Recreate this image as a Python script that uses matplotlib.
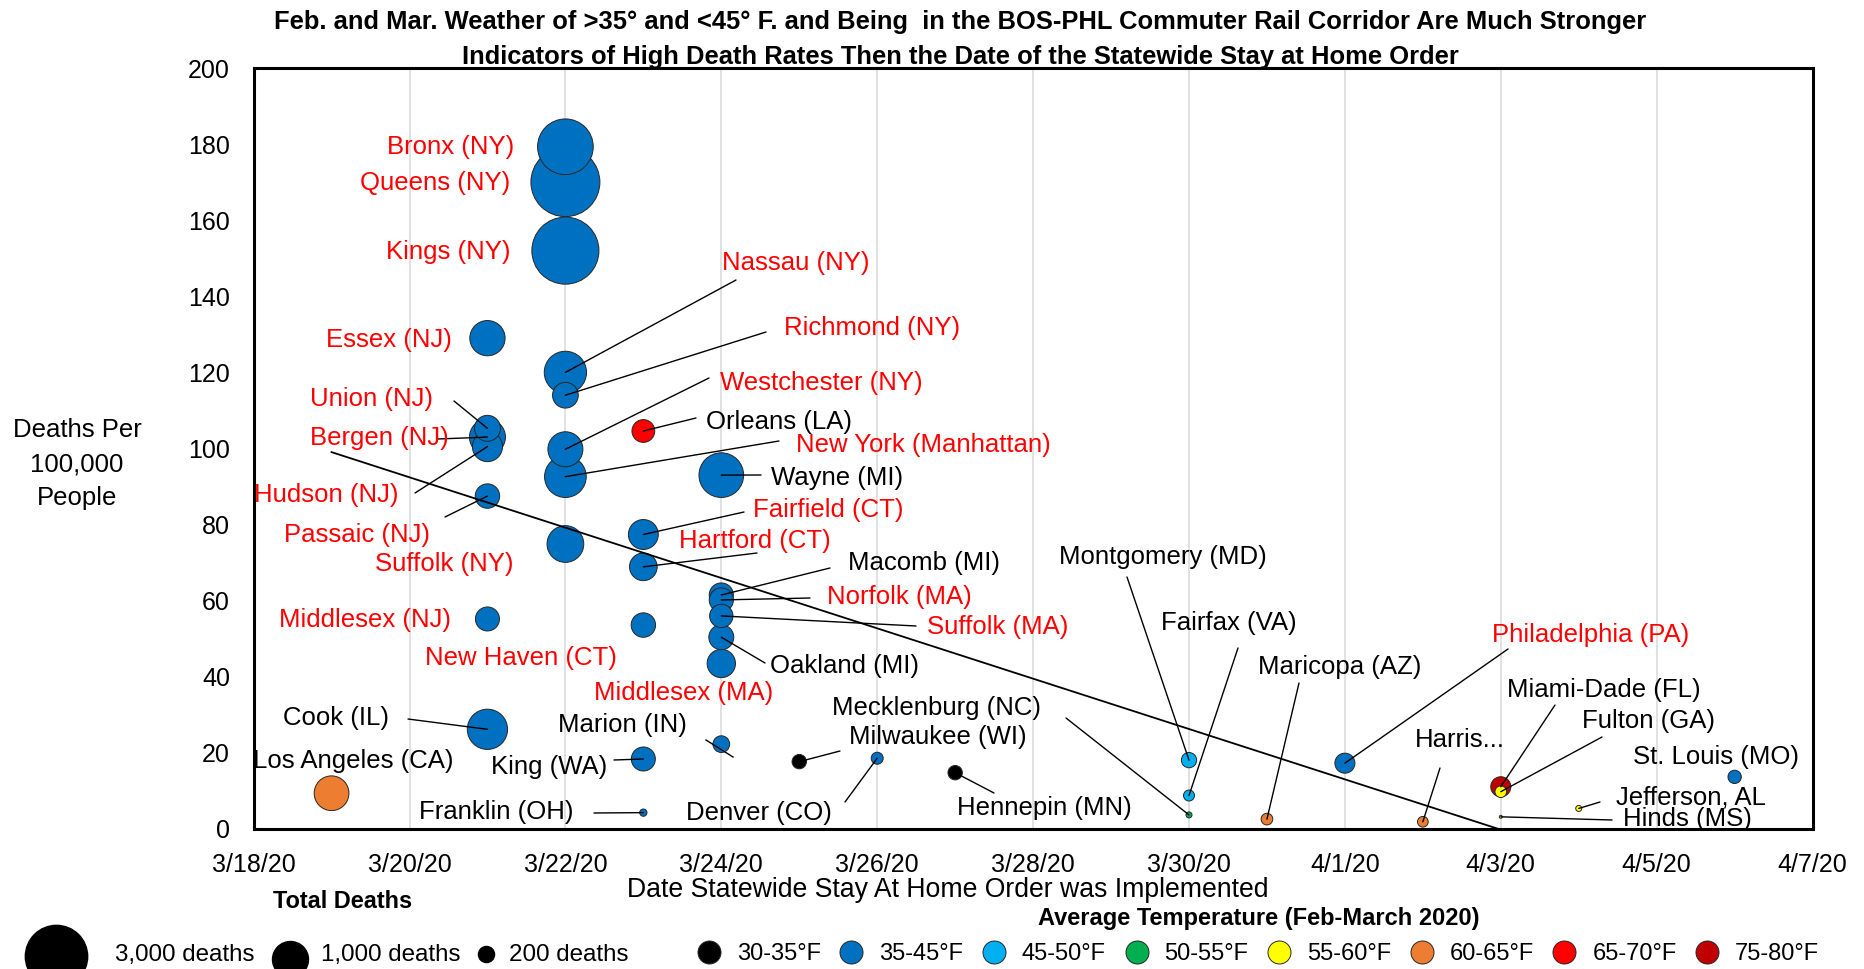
import matplotlib
matplotlib.use("Agg")
import matplotlib.pyplot as plt
import numpy as np
import pandas as pd
import matplotlib.dates as mdates

plt.rcParams['font.family'] = ['Liberation Sans', 'DejaVu Sans']

# ---------------- data ----------------
counties = ["Bronx (NY)", "Queens (NY)", "Kings (NY)", "Essex (NJ)", "Nassau (NY)",
            "Richmond (NY)", "Union (NJ)", "Bergen (NJ)", "Hudson (NJ)", "Passaic (NJ)",
            "Westchester (NY)", "New York (Manhattan)", "Orleans (LA)", "Wayne (MI)",
            "Fairfield (CT)", "Hartford (CT)", "New Haven (CT)", "Macomb (MI)",
            "Norfolk (MA)", "Suffolk (MA)", "Oakland (MI)", "Middlesex (MA)",
            "Suffolk (NY)", "Middlesex (NJ)", "Cook (IL)", "Los Angeles (CA)",
            "King (WA)", "Franklin (OH)", "Marion (IN)", "Milwaukee (WI)",
            "Denver (CO)", "Hennepin (MN)", "Montgomery (MD)", "Fairfax (VA)",
            "Mecklenburg (NC)", "Maricopa (AZ)", "Philadelphia (PA)", "Harris...",
            "Miami-Dade (FL)", "Fulton (GA)", "Hinds (MS)", "Jefferson, AL",
            "St. Louis (MO)"]
order_dates = ["2020-03-22", "2020-03-22", "2020-03-22", "2020-03-21", "2020-03-22",
               "2020-03-22", "2020-03-21", "2020-03-21", "2020-03-21", "2020-03-21",
               "2020-03-22", "2020-03-22", "2020-03-23", "2020-03-24",
               "2020-03-23", "2020-03-23", "2020-03-23", "2020-03-24",
               "2020-03-24", "2020-03-24", "2020-03-24", "2020-03-24",
               "2020-03-22", "2020-03-21", "2020-03-21", "2020-03-19",
               "2020-03-23", "2020-03-23", "2020-03-24", "2020-03-25",
               "2020-03-26", "2020-03-27", "2020-03-30", "2020-03-30",
               "2020-03-30", "2020-03-31", "2020-04-01", "2020-04-02",
               "2020-04-03", "2020-04-03", "2020-04-03", "2020-04-04",
               "2020-04-06"]
deaths_per_100k = [179.3, 170.0, 152.0, 129.0, 120.0,
                   114.0, 105.3, 103.0, 100.5, 87.5,
                   99.8, 92.6, 104.6, 93.0,
                   77.4, 68.9, 53.6, 61.5,
                   60.2, 56.0, 50.4, 43.5,
                   74.9, 55.2, 26.2, 9.4,
                   18.4, 4.3, 22.3, 17.7,
                   18.6, 14.8, 18.1, 8.8,
                   3.7, 2.6, 17.3, 1.9,
                   11.1, 9.8, 3.2, 5.4,
                   13.7]
total_deaths = [2390, 3670, 3470, 960, 1380,
                510, 520, 1000, 700, 460,
                945, 1340, 400, 1540,
                690, 590, 460, 450,
                450, 420, 480, 620,
                1040, 445, 1250, 930,
                445, 41, 215, 160,
                111, 160, 180, 93,
                28, 105, 310, 88,
                310, 105, 7, 28,
                137]
temp_band = ["35-45°F"] * 12 + ["65-70°F"] + ["35-45°F"] * 12 + ["60-65°F"] + \
            ["35-45°F"] * 3 + ["30-35°F", "35-45°F", "30-35°F", "45-50°F", "45-50°F",
             "50-55°F", "60-65°F", "35-45°F", "60-65°F", "75-80°F", "55-60°F",
             "55-60°F", "55-60°F", "35-45°F"]
in_corridor = [True] * 12 + [False, False] + [True, True, True, False, True, True,
               False, True, True, True] + [False] * 12 + [True] + [False] * 6

temp_bands = ["30-35°F", "35-45°F", "45-50°F", "50-55°F", "55-60°F", "60-65°F",
              "65-70°F", "75-80°F"]
temp_colors = ["#000000", "#0070C0", "#00B0F0", "#00B050", "#FFFF00", "#ED7D31",
               "#FF0000", "#C00000"]
size_legend_deaths = [3000, 1000, 200]
size_legend_labels = ["3,000 deaths", "1,000 deaths", "200 deaths"]
y_ticks = [0, 20, 40, 60, 80, 100, 120, 140, 160, 180, 200]
x_start, x_end = "2020-03-18", "2020-04-07"

title_lines = ["Feb. and Mar. Weather of >35° and <45° F. and Being  in the BOS-PHL Commuter "
               "Rail Corridor Are Much Stronger",
               "Indicators of High Death Rates Then the Date of the Statewide Stay at Home Order"]

# ---------------- layout (image pixels, origin top-left) ----------------
W, H = 1864, 969
label_pos = {
    "Bronx (NY)": (451, 147, None), "Queens (NY)": (435, 183, None),
    "Kings (NY)": (448, 252, None), "Essex (NJ)": (389, 340, None),
    "Nassau (NY)": (796, 263, (736, 280)), "Richmond (NY)": (872, 328, (766, 332)),
    "Westchester (NY)": (821, 383, (709, 378)), "Union (NJ)": (372, 399, (454, 401)),
    "Bergen (NJ)": (379, 438, (438, 439)), "Orleans (LA)": (779, 422, (696, 418)),
    "New York (Manhattan)": (923, 445, (779, 441)), "Wayne (MI)": (837, 478, (761, 475)),
    "Hudson (NJ)": (326, 495, (415, 493)), "Passaic (NJ)": (357, 535, (445, 517)),
    "Suffolk (NY)": (444, 564, None), "Middlesex (NJ)": (365, 620, None),
    "New Haven (CT)": (521, 658, None), "Middlesex (MA)": (684, 693, None),
    "Cook (IL)": (336, 718, (408, 719)), "Los Angeles (CA)": (353, 761, None),
    "Marion (IN)": (622, 725, (706, 740)), "King (WA)": (549, 767, (614, 760)),
    "Franklin (OH)": (496, 812, (594, 813)), "Denver (CO)": (759, 813, (845, 802)),
    "Macomb (MI)": (924, 563, (830, 568)), "Norfolk (MA)": (899, 597, (810, 598)),
    "Suffolk (MA)": (998, 627, (916, 626)), "Oakland (MI)": (844, 666, (765, 663)),
    "Fairfield (CT)": (828, 510, (744, 512)), "Hartford (CT)": (755, 541, (757, 553)),
    "Mecklenburg (NC)": (936, 708, (1066, 718)), "Milwaukee (WI)": (938, 737, (840, 751)),
    "Hennepin (MN)": (1044, 808, (994, 793)), "Montgomery (MD)": (1163, 557, (1127, 577)),
    "Fairfax (VA)": (1229, 623, (1238, 648)), "Maricopa (AZ)": (1340, 667, (1299, 683)),
    "Philadelphia (PA)": (1591, 635, (1508, 649)), "Miami-Dade (FL)": (1604, 690, (1555, 705)),
    "Fulton (GA)": (1648, 721, (1602, 737)), "Harris...": (1460, 740, (1440, 768)),
    "St. Louis (MO)": (1716, 757, None), "Jefferson, AL": (1691, 797, (1600, 802)),
    "Hinds (MS)": (1687, 819, (1612, 820)),
}
line_end_override = {"Marion (IN)": (733, 757)}

fig = plt.figure(figsize=(W / 100, H / 100), dpi=100)
ax_l, ax_r, ax_t, ax_b = 253.6, 1812.6, 68, 829
ax = fig.add_axes([ax_l / W, 1 - ax_b / H, (ax_r - ax_l) / W, (ax_b - ax_t) / H])
ov = fig.add_axes([0, 0, 1, 1], zorder=5)
ov.set_xlim(0, W)
ov.set_ylim(H, 0)
ov.axis('off')

x = mdates.date2num(pd.to_datetime(order_dates))
y = np.array(deaths_per_100k)
d = np.array(total_deaths, dtype=float)
cmap = dict(zip(temp_bands, temp_colors))
colors = [cmap[t] for t in temp_band]
px_per_1000 = 36.0
s = d / 1000.0 * (px_per_1000 * 0.72) ** 2

order = np.argsort(-d)
ax.scatter(x[order], y[order], s=s[order], c=[colors[i] for i in order],
           edgecolors='#262626', linewidths=0.7, zorder=3)

# linear trend line
xd = x - x.min()
coef = np.polyfit(xd, y, 1)
xt = np.array([xd.min(), xd.max()])
ax.plot(xt + x.min(), np.polyval(coef, xt), color='black', lw=1.3, zorder=4)

x0 = mdates.date2num(pd.Timestamp(x_start))
x1 = mdates.date2num(pd.Timestamp(x_end))
ax.set_xlim(x0, x1)
ax.set_ylim(0, 200)
xticks = mdates.date2num(pd.date_range(x_start, x_end, freq='2D'))
ax.set_xticks(xticks)
ax.set_xticklabels([f"{t.month}/{t.day}/{t.strftime('%y')}" for t in mdates.num2date(xticks)])
ax.set_yticks(y_ticks)
ax.tick_params(length=0, labelsize=18, pad=17)
ax.tick_params(axis='x', pad=17)
ax.grid(axis='x', color='#D9D9D9', lw=1.1, zorder=0)
ax.set_axisbelow(True)
for sp in ax.spines.values():
    sp.set_linewidth(2.2)
    sp.set_color('black')

# labels & leader lines
lab_fs = 18.5
for i, name in enumerate(counties):
    cx, cy, start = label_pos[name]
    col = '#FF0000' if in_corridor[i] else 'black'
    ov.text(cx, cy, name, ha='center', va='center', fontsize=lab_fs, color=col, zorder=6)
    if start is not None:
        if name in line_end_override:
            ov.plot([start[0], line_end_override[name][0]],
                    [start[1], line_end_override[name][1]], color='black', lw=1.0, zorder=6)
        else:
            ax.annotate('', xy=(x[i], y[i]), xycoords='data', xytext=start,
                        textcoords=ov.transData, annotation_clip=False,
                        arrowprops=dict(arrowstyle='-', color='black', lw=1.0,
                                        shrinkA=0, shrinkB=0), zorder=6)

# title & axis titles
ov.text(960, 22, title_lines[0], ha='center', va='center', fontsize=18.4, fontweight='bold')
ov.text(960, 57, title_lines[1], ha='center', va='center', fontsize=18.4, fontweight='bold')
ov.text(77, 464, "Deaths Per\n100,000\nPeople", ha='center', va='center', fontsize=18.5,
        linespacing=1.55)
ov.text(948, 890, "Date Statewide Stay At Home Order was Implemented", ha='center',
        va='center', fontsize=19.2)

# size legend
ov.text(343, 901, "Total Deaths", ha='center', va='center', fontsize=16.9, fontweight='bold')
leg_centers = [(56, 956), (290, 959), (486, 954)]
leg_text_x = [115, 321, 509]
for (lx, ly), dd, lab, tx in zip(leg_centers, size_legend_deaths, size_legend_labels, leg_text_x):
    ov.scatter([lx], [ly], s=dd / 1000.0 * (px_per_1000 * 0.72) ** 2, c='black',
               edgecolors='black', clip_on=False)
    ov.text(tx, 955, lab, ha='left', va='center', fontsize=17.4)

# temperature legend
ov.text(1259, 919, "Average Temperature (Feb-March 2020)", ha='center', va='center',
        fontsize=17.0, fontweight='bold')
for k, (band, colr) in enumerate(zip(temp_bands, temp_colors)):
    cxk = 708.7 + k * 142.6
    ov.scatter([cxk], [952], s=(23 * 0.72) ** 2, c=colr, edgecolors='#262626',
               linewidths=0.7, clip_on=False)
    ov.text(cxk + 28, 954, band, ha='left', va='center', fontsize=17)

fig.savefig("out.png", dpi=100)
